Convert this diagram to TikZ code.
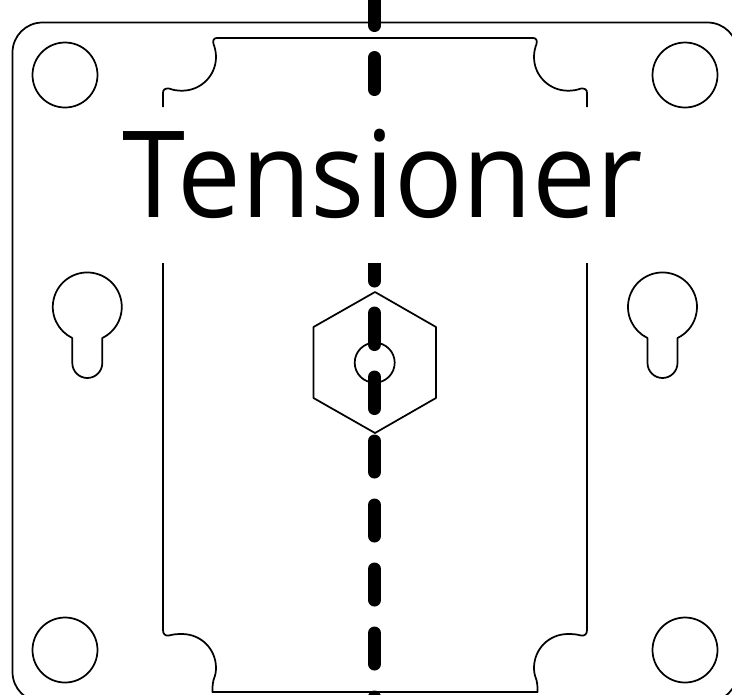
\documentclass[tikz,border=0pt]{standalone}
\usepackage{fontspec}
\setmainfont{Open Sans}
\begin{document}
\begin{tikzpicture}[x=0.75pt,y=-0.75pt,
  outline/.style={draw=black,line width=1.3pt,line join=round},
  dashstroke/.style={draw=black,line width=9.75pt,line cap=round},
  label/.style={inner sep=0pt,anchor=base,font=\fontsize{90.3pt}{90pt}\selectfont}]
\clip (0,0) rectangle (732,694);
% outer plate
\draw[outline,rounded corners=22.5pt] (12.5,22.5) rectangle (737.5,702);
% corner holes
\foreach \cx/\cy in {65/75,685/75,65/650,685/650}
  \draw[outline] (\cx,\cy) circle[radius=32.5];
% keyholes
\foreach \kx in {87.3,662.5}{
  \draw[outline] (\kx-15,338) -- (\kx-15,363)
    arc[start angle=180,end angle=0,radius=15] -- (\kx+15,338)
    arc[start angle=64.2,end angle=-244.2,radius=34.5] -- cycle;
}
% inner block
\draw[outline] (163,107) -- (163,93) .. controls (163,89.5) and (165,88.3) .. (169,88.5)
  .. controls (173,90) and (177,90.7) .. (182,90.7)
  .. controls (201,90.7) and (216,75.5) .. (216,57)
  .. controls (216,52) and (215,48) .. (213.5,44)
  .. controls (212.5,40) and (214,38) .. (217,38)
  -- (533,38)
  .. controls (536,38) and (537.5,40) .. (536.5,44)
  .. controls (535,48) and (534,52) .. (534,57)
  .. controls (534,75.5) and (549,90.7) .. (568,90.7)
  .. controls (573,90.7) and (577,90) .. (581,88.5)
  .. controls (585,88.3) and (587,89.5) .. (587,93)
  -- (587,107);
\draw[outline] (163,263) -- (163,630) .. controls (163,634) and (165,636) .. (169,635.5)
  .. controls (173,634.3) and (177,634) .. (182,634)
  .. controls (201,634) and (216,649) .. (216,668)
  .. controls (216,673) and (215,676) .. (213.5,680)
  .. controls (212.7,683) and (212.5,685) .. (212.5,692)
  -- (537.5,692)
  .. controls (537.5,685) and (537.3,683) .. (536.5,680)
  .. controls (535,676) and (534,673) .. (534,668)
  .. controls (534,649) and (549,634) .. (568,634)
  .. controls (573,634) and (577,634.3) .. (581,635.5)
  .. controls (585,636) and (587,634) .. (587,630)
  -- (587,263);
% hex nut and bore
\draw[outline] (375,292) -- (436,327) -- (436,398) -- (375,433) -- (313.5,398) -- (313.5,327) -- cycle;
\draw[outline] (374.7,362.7) circle[radius=20];
% centre line
\foreach \ya/\yb in {-20/25.5,57.5/89.5,313/344.5,377/408.5,441/472,505/536,569/600,633/664,697/728}
  \draw[dashstroke] (374.5,\ya) -- (374.5,\yb);
\begin{scope}
  \clip (360,263) rectangle (390,295);
  \draw[dashstroke] (374.5,240) -- (374.5,281);
\end{scope}
% title
\node[label] (title) at (382.5,217) {\scalebox{0.945}[1]{Tensioner}};
\end{tikzpicture}
\end{document}
